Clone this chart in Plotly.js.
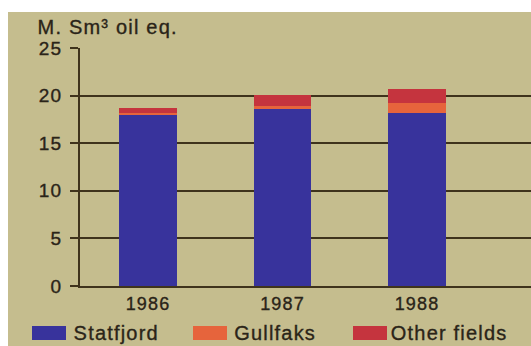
<!DOCTYPE html>
<html>
<head>
<meta charset="utf-8">
<script src="https://cdn.plot.ly/plotly-3.0.1.min.js"></script>
<style>
  html, body { margin: 0; padding: 0; background: #ffffff; }
  #wrap { position: relative; width: 531px; height: 346px; overflow: hidden; background: #ffffff; }
  #chart { position: absolute; left: 8px; top: 12px; width: 523px; height: 334px; }
  #chart text { letter-spacing: 1.2px; stroke: #2a2418; stroke-width: 0.35px; }
</style>
</head>
<body>
<div id="wrap"><div id="chart"></div></div>
<script>
// Oil production by field, million Sm³ oil equivalent
const years = ['1986', '1987', '1988'];
const statfjord = [18.0, 18.6, 18.15];
const gullfaks = [0.2, 0.35, 1.05];
const otherFields = [0.45, 1.1, 1.5];

const seriesNames = ['Statfjord', 'Gullfaks', 'Other fields'];
const seriesColors = ['#38339c', '#e6643c', '#c5343e'];

const yTicks = [0, 5, 10, 15, 20, 25];
const yTitle = 'M. Sm³ oil eq.';

// Layout geometry (pixels inside the chart div)
const W = 523, H = 334;
const M = { l: 72, r: 0, t: 36, b: 60 };
const PW = W - M.l - M.r, PH = H - M.t - M.b;
const px = x => (x - M.l) / PW;
const py = y => (H - M.b - y) / PH;

const ink = '#2a2418';
const rule = '#3f331c';
const bg = '#c5bd8e';
const font = 'Liberation Sans, Arial, Helvetica, sans-serif';

const values = [statfjord, gullfaks, otherFields];
const traces = values.map((v, i) => ({
  type: 'bar',
  x: years,
  y: v,
  name: seriesNames[i],
  width: 0.43,
  marker: { color: seriesColors[i], line: { width: 0 } },
  showlegend: false,
  hoverinfo: 'x+y+name'
}));

// Legend keys drawn along the bottom
const legendKeys = [
  { sx: 24, tx: 69 },
  { sx: 185, tx: 229 },
  { sx: 345, tx: 388 }
];
const shapes = legendKeys.map((k, i) => ({
  type: 'rect', xref: 'paper', yref: 'paper',
  x0: px(k.sx), x1: px(k.sx + 34), y0: py(328), y1: py(314),
  fillcolor: seriesColors[i], line: { width: 0 }
}));
const annotations = legendKeys.map((k, i) => ({
  xref: 'paper', yref: 'paper', x: px(k.tx), y: py(321),
  xanchor: 'left', yanchor: 'middle', showarrow: false,
  text: seriesNames[i], font: { family: font, size: 20, color: ink }
}));
annotations.push({
  xref: 'paper', yref: 'paper', x: px(36), y: py(15),
  xanchor: 'left', yanchor: 'middle', showarrow: false,
  text: yTitle, font: { family: font, size: 20, color: ink }
});

const layout = {
  width: W, height: H,
  margin: M,
  paper_bgcolor: bg,
  plot_bgcolor: 'rgba(0,0,0,0)',
  barmode: 'stack',
  bargap: 0.57,
  showlegend: false,
  xaxis: {
    type: 'category',
    range: [-0.506, 2.847],
    showgrid: false, zeroline: false,
    showline: true, linecolor: rule, linewidth: 2,
    ticks: '',
    tickfont: { family: font, size: 18, color: ink },
    ticklabelstandoff: 0,
    fixedrange: true
  },
  yaxis: {
    range: [0, 25],
    tickvals: yTicks,
    ticktext: yTicks.map(String),
    showgrid: true, gridcolor: rule, gridwidth: 2,
    zeroline: false,
    showline: true, linecolor: rule, linewidth: 2,
    ticks: 'outside', ticklen: 8, tickwidth: 2, tickcolor: rule,
    tickfont: { family: font, size: 19, color: ink },
    ticklabelstandoff: 4,
    fixedrange: true
  },
  shapes: shapes,
  annotations: annotations
};

Plotly.newPlot('chart', traces, layout, { displayModeBar: false, staticPlot: true });
</script>
</body>
</html>
